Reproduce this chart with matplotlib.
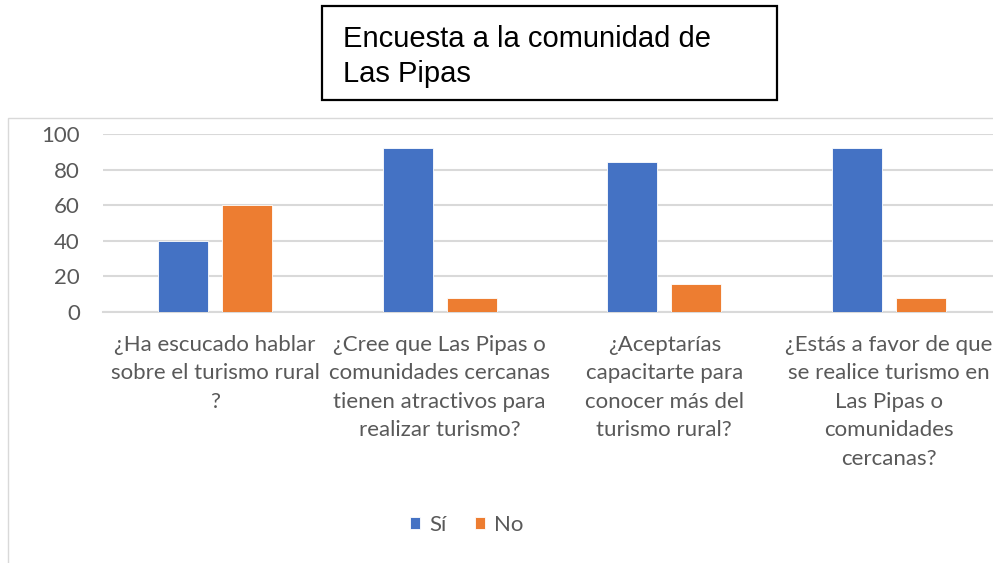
import matplotlib
matplotlib.use("Agg")
import matplotlib.pyplot as plt
from matplotlib.patches import Rectangle
import matplotlib.transforms as mtransforms
import numpy as np

categories = [
    "¿Ha escucado hablar\nsobre el turismo rural\n?",
    "¿Cree que Las Pipas o\ncomunidades cercanas\ntienen atractivos para\nrealizar turismo?",
    "¿Aceptarías\ncapacitarte para\nconocer más del\nturismo rural?",
    "¿Estás a favor de que\nse realice turismo en\nLas Pipas o\ncomunidades\ncercanas?",
]
series_names = ["Sí", "No"]
si_values = [40, 92, 84, 92]
no_values = [60, 8, 16, 8]
yticks = [0, 20, 40, 60, 80, 100]
title_lines = ["Encuesta a la comunidad de", "Las Pipas"]

W, H = 993, 563
fig = plt.figure(figsize=(W / 100, H / 100), dpi=100)

def fx(px):
    return px / W

def fy(py):
    return 1 - py / H

FS = 16
TXT = "#595959"

# Chart area border
fig.patches.append(Rectangle((fx(8), fy(570)), fx(1000) - fx(8), fy(118) - fy(570),
                             transform=fig.transFigure, fill=False,
                             edgecolor="#D9D9D9", linewidth=1.0))

# Title box
fig.patches.append(Rectangle((fx(322), fy(100)), fx(777) - fx(322), fy(6) - fy(100),
                             transform=fig.transFigure, facecolor="white",
                             edgecolor="black", linewidth=1.6))
fig.text(fx(343), fy(46.7), title_lines[0], fontsize=21, family="Liberation Sans",
         va="baseline", ha="left", color="black")
fig.text(fx(343), fy(81.7), title_lines[1], fontsize=21, family="Liberation Sans",
         va="baseline", ha="left", color="black")

ax_top, ax_bot = 134, 312
ax_left, ax_right = 102.6, 1001.4
ax = fig.add_axes([fx(ax_left), fy(ax_bot), fx(ax_right) - fx(ax_left), fy(ax_top) - fy(ax_bot)])

x = np.arange(len(categories))
bw = 0.223
off = 0.1425
ax.bar(x - off, si_values, bw, color="#4472C4", edgecolor="white", linewidth=0.6,
       label=series_names[0], zorder=3)
ax.bar(x + off, no_values, bw, color="#ED7D31", edgecolor="white", linewidth=0.6,
       label=series_names[1], zorder=3)

ax.set_xlim(-0.5, len(categories) - 0.5)
ax.set_ylim(0, 100)
ax.set_yticks(yticks)
ax.yaxis.grid(True, color="#D9D9D9", linewidth=1.5, zorder=0)
ax.set_axisbelow(True)
for s in ["top", "right", "left"]:
    ax.spines[s].set_visible(False)
ax.spines["bottom"].set_color("#D9D9D9")
ax.spines["bottom"].set_linewidth(1.5)
ax.tick_params(axis="y", length=0, pad=16.3, labelsize=FS, labelcolor=TXT)
ax.tick_params(axis="x", length=0)
ax.set_xticks([])
for lbl in ax.get_yticklabels():
    lbl.set_family("Lato")

# Category labels, one line at a time with fixed baseline spacing
trans = mtransforms.blended_transform_factory(ax.transData, ax.transAxes)
ax_h = ax_bot - ax_top
first_baseline = 351.0
line_step = 28.4
for i, c in enumerate(categories):
    for k, line in enumerate(c.split("\n")):
        ypx = first_baseline + k * line_step
        ax.text(i, -(ypx - ax_bot) / ax_h, line, transform=trans, ha="center",
                va="baseline", fontsize=FS, family="Lato", color=TXT, clip_on=False)

handles, labels = ax.get_legend_handles_labels()
leg = fig.legend(handles, labels, loc="center", bbox_to_anchor=(fx(467), fy(525)),
                 ncol=2, frameon=False, handlelength=0.45, handleheight=0.45,
                 handletextpad=0.4, columnspacing=1.3, prop={"family": "Lato", "size": FS})
for t in leg.get_texts():
    t.set_color(TXT)

fig.savefig("out.png", dpi=100)
